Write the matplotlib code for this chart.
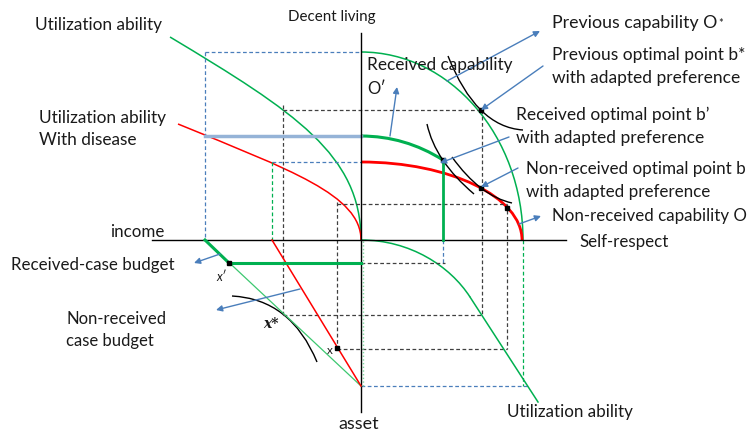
import matplotlib
matplotlib.use("Agg")
import matplotlib.pyplot as plt
from matplotlib.path import Path
from matplotlib.patches import PathPatch

# all positions in picture pixels (x right, y down), origin of the 4 quadrants at (361, 240)
W, H = 750, 434

GREEN = "#00b050"
RED = "#ff0000"
BLUE = "#4a7ebb"
LBLUE = "#95b3d7"
DGRAY = "#404040"
TXT = "#1a1a1a"

# capability frontiers (quadrant I), bezier control points
cap_prev = [(361, 52), (450, 52), (523, 136), (523, 240)]
cap_nonrec = [(361, 162), (450, 162), (522, 197), (522, 240)]
cap_rec = [(361, 136), (405, 136), (443, 160)]          # quadratic
cap_rec_drop = [(443, 160), (443, 240)]

# utilization ability curves (quadrant II and IV)
util_green = [(170, 37), (295, 112), (361, 155), (361, 240)]
util_red = [(178, 124), (290, 170), (361, 195), (361, 240)]
util_low = [(361, 240), (410, 240), (450, 266), (470, 297)]
util_low_tail = [(470, 297), (538, 402)]

# indifference curves (quadratic bezier)
ic_bstar = [(448, 56), (476, 127), (523, 130)]
ic_bprime = [(427, 124), (435, 161), (474, 194)]
ic_b = [(452, 157), (480, 196), (512, 203)]
ic_xstar = [(232, 296), (291, 299), (317, 362)]

# budget lines (quadrant III)
budget_rec = [(205, 240), (361, 386)]
budget_rec_thick = [(205, 240), (229, 263)]
budget_nonrec = [(272, 240), (361, 386)]
xprime_line = [(229, 263), (361, 263)]

# marked points
pts = [(481, 110), (443, 160), (481, 188), (507, 208), (229, 263), (337, 348)]

# construction lines
blue_dash = [[(205, 52), (361, 52)], [(205, 52), (205, 240)], [(361, 386), (528, 386)],
             [(272, 162), (361, 162)], [(443, 240), (443, 263)]]
green_dash = [[(272, 162), (272, 240)], [(523, 240), (523, 386)]]
black_dash = [[(283, 110), (481, 110)], [(283, 105), (283, 315)], [(283, 315), (482, 315)],
              [(482, 110), (482, 315)],
              [(337, 204), (507, 204)], [(337, 202), (337, 349)], [(337, 349), (507, 349)],
              [(507, 204), (507, 349)], [(361, 263), (445, 263)]]

# arrows: (tail, head)
arrows = [((447, 81), (540, 31)), ((543, 66), (481, 110)), ((390, 136), (397, 87)),
          ((509, 137), (440, 163)), ((518, 168), (481, 187)), ((519, 224), (541, 216)),
          ((220, 254), (194, 263)), ((300, 289), (216, 310))]

# labels: lines, x, centre y of each line, width of the first line in the picture
labels = [
    (["Utilization ability"], 35, [25], 127),
    (["Decent living"], 288, [17], 87),
    (["Received capability", "O\u2032"], 367, [65, 89], 145),
    (["Utilization ability", "With disease"], 39, [118, 140], 127),
    (["Previous capability O"], 552, [23], 165),
    (["Previous optimal point b*", "with adapted preference"], 552, [55, 78], 192),
    (["Received optimal point b\u2019", "with adapted preference"], 516, [115, 138], 192),
    (["Non-received optimal point b", "with adapted preference"], 526, [169, 192], 218),
    (["Non-received capability O"], 552, [216], 194),
    (["Self-respect"], 579, [242], 89),
    (["income"], 110, [232], 54),
    (["Received-case budget"], 11, [265], 163),
    (["Non-received", "case budget"], 66, [319, 341], 100),
    (["asset"], 338, [424], 40),
    (["Utilization ability"], 507, [412], 125),
]


def bez(ax, p, color, lw):
    codes = [Path.MOVETO] + ([Path.CURVE4] * 3 if len(p) == 4 else [Path.CURVE3] * 2)
    ax.add_patch(PathPatch(Path(p, codes), fc="none", ec=color, lw=lw, capstyle="butt"))


def seg(ax, p, color, lw, ls="-"):
    ax.plot([p[0][0], p[1][0]], [p[0][1], p[1][1]], color=color, lw=lw, ls=ls)


plt.rcParams["font.family"] = ["Lato", "DejaVu Sans"]
fig = plt.figure(figsize=(W / 100, H / 100), dpi=100)
ax = fig.add_axes([0, 0, 1, 1])
ax.set_xlim(0, W)
ax.set_ylim(H, 0)
ax.axis("off")

# construction dashes first
for p in blue_dash:
    seg(ax, p, BLUE, 0.9, (0, (3, 2)))
for p in green_dash:
    seg(ax, p, GREEN, 0.9, (0, (3, 2)))
for p in black_dash:
    seg(ax, p, DGRAY, 0.9, (0, (3, 2)))
seg(ax, [(205, 136), (361, 136)], LBLUE, 2.5)
seg(ax, [(363, 241), (363, 386)], "#7fd7a0", 1, ":")

# axes
seg(ax, [(361, 33), (361, 412)], "black", 1)
seg(ax, [(152, 240), (566, 240)], "black", 1)

# curves
bez(ax, cap_prev, GREEN, 1.1)
bez(ax, cap_nonrec, RED, 2)
bez(ax, cap_rec, GREEN, 2.2)
seg(ax, cap_rec_drop, GREEN, 2)
bez(ax, util_green, GREEN, 1.1)
bez(ax, util_red, RED, 1.1)
bez(ax, util_low, GREEN, 1.1)
seg(ax, util_low_tail, GREEN, 1.1)
for c in (ic_bstar, ic_bprime, ic_b, ic_xstar):
    bez(ax, c, "black", 1)
seg(ax, budget_rec, "#3cc870", 0.9)
seg(ax, budget_rec_thick, GREEN, 2.2)
seg(ax, budget_nonrec, RED, 1.1)
seg(ax, xprime_line, GREEN, 2.2)

for px, py in pts:
    ax.plot(px, py, "s", ms=2.2, color="black")

for tail, head in arrows:
    ax.annotate("", xy=head, xytext=tail,
                arrowprops=dict(arrowstyle="-|>", color=BLUE, lw=1, mutation_scale=9,
                                shrinkA=0, shrinkB=0))

# text, sized so the first line has the width it has in the picture
fig.canvas.draw()
renderer = fig.canvas.get_renderer()
star_at = None
for lines, x, ys, width in labels:
    t0 = ax.text(x, ys[0], lines[0], fontsize=11, ha="left", va="center", color=TXT)
    w = t0.get_window_extent(renderer).width
    fs = min(14, 11 * width / w)
    t0.set_fontsize(fs)
    for ln, y in zip(lines[1:], ys[1:]):
        ax.text(x, y, ln, fontsize=fs if ln != "O\u2032" else 12, ha="left", va="center", color=TXT)
    if lines[0] == "Previous capability O":
        star_at = t0

bb = star_at.get_window_extent(renderer)
ax.text(bb.x1 + 1, 23, "*", fontsize=8, ha="left", va="center", color=TXT)

ax.text(216, 277, "x\u2032", fontsize=9, style="italic", ha="left", va="center", color=TXT)
ax.text(263, 324, "x*", fontsize=10, style="italic", weight="bold", family="DejaVu Serif",
        ha="left", va="center", color=TXT)
ax.text(327, 351, "x", fontsize=8.5, ha="left", va="center", color=TXT)

fig.savefig("out.png", dpi=100)
